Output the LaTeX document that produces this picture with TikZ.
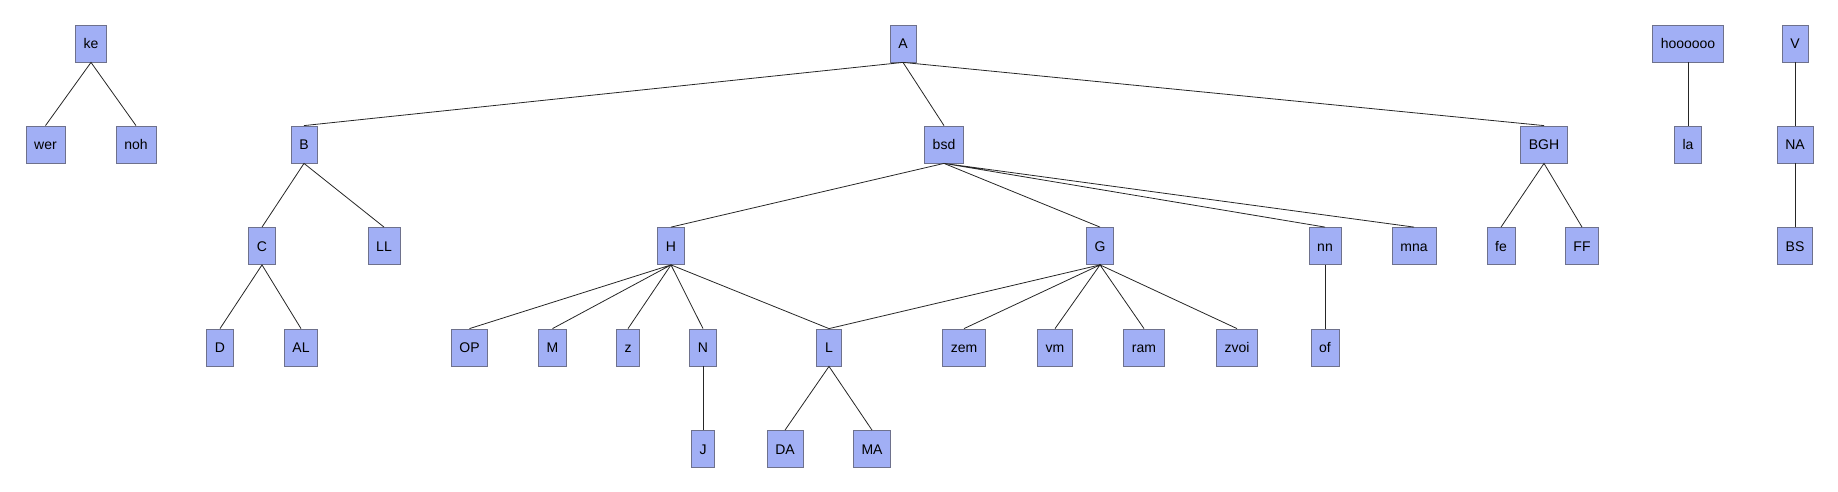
\documentclass[tikz,border=0pt]{standalone}
\usepackage{fontspec}
\setmainfont{Liberation Sans}
\usepackage{tikz}

\definecolor{boxfill}{RGB}{161,175,245}
\definecolor{boxline}{RGB}{110,113,140}

\begin{document}
\begin{tikzpicture}
	[x=0.75pt,y=-0.75pt,
		box/.style={rectangle,draw=boxline,fill=boxfill,line width=0.6pt,inner xsep=6.2pt,
		minimum height=27.75pt,text height=7.6pt,text depth=0pt,
		font=\fontsize{10.5}{12}\selectfont},
		link/.style={draw=black!85,line width=0.6pt}]
	\useasboundingbox (0,0) rectangle (1838,492);

	% first row
	\node (ke) at (91,43.5) [box] {ke};
	\node (a) at (903,43.5) [box] {A};
	\node (hoo) at (1688,43.5) [box] {hoooooo};
	\node (v) at (1795,43.5) [box] {V};

	% second row
	\node (wer) at (45.5,144.5) [box] {wer};
	\node (noh) at (136,144.5) [box] {noh};
	\node (b) at (304,144.5) [box] {B};
	\node (bsd) at (944,144.5) [box] {bsd};
	\node (bgh) at (1544,144.5) [box] {BGH};
	\node (la) at (1688,144.5) [box] {la};
	\node (na) at (1795,144.5) [box] {NA};

	% third row
	\node (c) at (262,246) [box] {C};
	\node (ll) at (384,246) [box] {LL};
	\node (h) at (671,246) [box] {H};
	\node (g) at (1100,246) [box] {G};
	\node (nn) at (1325,246) [box] {nn};
	\node (mna) at (1414,246) [box] {mna};
	\node (fe) at (1501,246) [box] {fe};
	\node (ff) at (1582,246) [box] {FF};
	\node (bs) at (1795,246) [box] {BS};

	% fourth row
	\node (d) at (220,347.5) [box] {D};
	\node (al) at (301,347.5) [box] {AL};
	\node (op) at (469.5,347.5) [box] {OP};
	\node (m) at (552.5,347.5) [box] {M};
	\node (z) at (628,347.5) [box] {z};
	\node (n) at (703,347.5) [box] {N};
	\node (l) at (829,347.5) [box] {L};
	\node (zem) at (964,347.5) [box] {zem};
	\node (vm) at (1055,347.5) [box] {vm};
	\node (ram) at (1144,347.5) [box] {ram};
	\node (zvoi) at (1237,347.5) [box] {zvoi};
	\node (of) at (1325,347.5) [box] {of};

	% fifth row
	\node (j) at (703,449) [box] {J};
	\node (da) at (785,449) [box] {DA};
	\node (ma) at (872,449) [box] {MA};

	% links
	\draw[link] (wer.north) -- (ke.south) -- (noh.north);
	\draw[link] (b.north) -- (a.south) -- (bsd.north);
	\draw[link] (a.south) -- (bgh.north);
	\draw[link] (c.north) -- (b.south) -- (ll.north);
	\draw[link] (d.north) -- (c.south) -- (al.north);
	\draw[link] (h.north) -- (bsd.south) -- (g.north);
	\draw[link] (nn.north) -- (bsd.south) -- (mna.north);
	\draw[link] (op.north) -- (h.south) -- (m.north);
	\draw[link] (z.north) -- (h.south) -- (n.north);
	\draw[link] (h.south) -- (l.north) -- (g.south);
	\draw[link] (n.south) -- (j.north);
	\draw[link] (da.north) -- (l.south) -- (ma.north);
	\draw[link] (zem.north) -- (g.south) -- (vm.north);
	\draw[link] (ram.north) -- (g.south) -- (zvoi.north);
	\draw[link] (nn.south) -- (of.north);
	\draw[link] (fe.north) -- (bgh.south) -- (ff.north);
	\draw[link] (hoo.south) -- (la.north);
	\draw[link] (v.south) -- (na.north);
	\draw[link] (na.south) -- (bs.north);
\end{tikzpicture}
\end{document}
